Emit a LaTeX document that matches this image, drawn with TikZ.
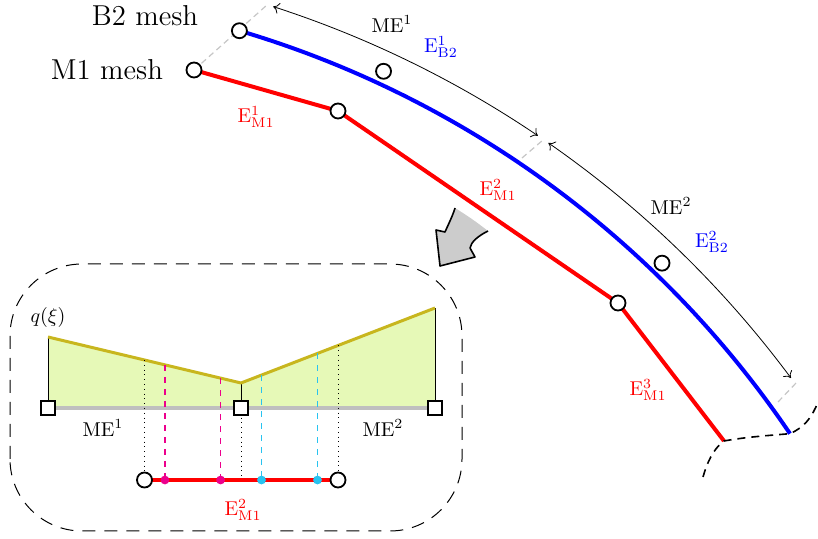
\documentclass[tikz,border=0pt]{standalone}
\usetikzlibrary{calc,positioning,arrows.meta}
\definecolor{qline}{RGB}{200,182,30}
\definecolor{qfill}{RGB}{230,249,183}
\definecolor{gpcyan}{RGB}{40,195,240}

\begin{document}
\begin{tikzpicture}[x=0.5pt,y=0.5pt,
                    >={To[length=3pt,width=5.5pt]},
                    vtx/.style={circle,draw,fill=white,line width=0.9pt,
                                inner sep=0pt,minimum size=7.5pt},
                    cvtx/.style={rectangle,draw,fill=white,line width=0.9pt,
                                 inner sep=0pt,minimum size=7pt},
                    gp/.style={circle,fill=#1,inner sep=0pt,minimum size=4.4pt},
                    gpl/.style={#1,dashed,line width=0.6pt},
                    mone/.style={red,line width=2pt},
                    btwo/.style={blue,line width=2pt},
                    elcut/.style={gray!45,densely dashed,line width=0.6pt}]
  \useasboundingbox (0,0) rectangle (818,539);
  % centre of the B2 arc
  \coordinate (O) at (-48,-462);

  \coordinate (m1) at (194,469);
  \coordinate (m2) at (338,428);
  \coordinate (m3) at (618,236);
  \coordinate (m4) at (724,98);
  \coordinate (b1) at ([shift={(73.5:1012)}]O);
  \coordinate (b2) at ([shift={(34.1:1012)}]O);

  % element boundaries
  \draw[elcut] (m1) -- (267,534);
  \draw[elcut] (522,381) -- (543,399);
  \draw[elcut] (778,137) -- (797,157);

  \draw[mone] (m1) -- (m2) -- (m3) -- (m4);
  \draw[btwo] (b1) arc[start angle=73.5,end angle=34.1,radius=1012];

  \draw[<->] ([shift={(72.1:1045)}]O) arc[start angle=72.1,end angle=55.9,radius=1045];
  \draw[<->] ([shift={(55.2:1045)}]O) arc[start angle=55.2,end angle=36.6,radius=1045];

  % cut through the domain
  \draw[line width=0.8pt,dash pattern=on 4pt off 3pt]
    (703,62) .. controls (707,76) and (713,90) .. (m4)
             .. controls (745,102) and (775,104) .. (b2)
             .. controls (805,112) and (812,122) .. (818,137);

  \foreach \p in {m1,m2,m3,b1} \node[vtx] at (\p) {};
  \node[vtx] (bc1) at ([shift={(65.1:1025)}]O) {};
  \node[vtx] (bc2) at ([shift={(46.1:1024)}]O) {};

  \node[font=\Large] (b2mesh) at (145,523) {B2 mesh};
  \node[font=\Large,left=12pt of m1] (m1mesh) {M1 mesh};
  \node at (392,515) {ME$^1$};
  \node at (671,333) {ME$^2$};
  \node[text=blue] at (441,492) {$\mathrm{E}^1_{\mathrm{B2}}$};
  \node[text=blue] at (712,297) {$\mathrm{E}^2_{\mathrm{B2}}$};
  \node[text=red] at (256,422) {$\mathrm{E}^1_{\mathrm{M1}}$};
  \node[text=red] at (498,349) {$\mathrm{E}^2_{\mathrm{M1}}$};
  \node[text=red] at (648,149) {$\mathrm{E}^3_{\mathrm{M1}}$};

  % zoom arrow
  \fill[gray!40] (455,331) to[bend left=3] (488,308)
    .. controls (478,303) and (471,297) .. (470,291) -- (475,282) -- (440,273)
    -- (436,309) -- (445,307) .. controls (449,316) and (453,324) .. (455,331) -- cycle;
  \draw[line width=0.8pt,line join=round] (488,308)
    .. controls (478,303) and (471,297) .. (470,291) -- (475,282) -- (440,273)
    -- (436,309) -- (445,307) .. controls (449,316) and (453,324) .. (455,331);

  % inset: q over the two mortar elements
  \draw[line width=0.5pt,dash pattern=on 6.5pt off 4.5pt,rounded corners=36pt]
    (10,8) rectangle (462,275);
  \coordinate (s1) at (48,131);
  \coordinate (s2) at (241,131);
  \coordinate (s3) at (435,131);
  \coordinate (qL) at (48,202);
  \coordinate (qM) at (241,156);
  \coordinate (qR) at (435,231);
  \fill[qfill] (qL) -- (qM) -- (qR) -- (s3) -- (s1) -- cycle;
  \draw[lightgray,line width=2pt] (s1) -- (s3);
  \draw[line width=0.5pt] (s1) -- (qL) (s2) -- (qM) (s3) -- (qR);
  \draw[qline,line width=1.5pt,line join=round] (qL) -- (qM) -- (qR);
  \node[above=1pt of qL] (qlab) {$q(\xi)$};

  \coordinate (hL) at ($(qL)!.5!(qM)$);
  \coordinate (hR) at ($(qM)!.5!(qR)$);
  \coordinate (e1) at (hL |- 0,59);
  \coordinate (e2) at (hR |- 0,59);
  \draw[dotted] (hL) -- (e1) (hR) -- (e2) (s2) -- (s2 |- e1);
  \coordinate (g1) at ($(qL)!0.6057!(qM)$);
  \coordinate (g2) at ($(qL)!0.8943!(qM)$);
  \coordinate (g3) at ($(qM)!0.1057!(qR)$);
  \coordinate (g4) at ($(qM)!0.3943!(qR)$);
  \draw[gpl=magenta] (g1) -- (g1 |- e1) (g2) -- (g2 |- e1);
  \draw[gpl=gpcyan] (g3) -- (g3 |- e1) (g4) -- (g4 |- e1);
  \draw[mone] (e1) -- (e2);
  \foreach \g in {g1,g2} \node[gp=magenta] at (\g |- e1) {};
  \foreach \g in {g3,g4} \node[gp=gpcyan] at (\g |- e1) {};
  \foreach \p in {e1,e2} \node[vtx] at (\p) {};
  \foreach \s in {s1,s2,s3} \node[cvtx] at (\s) {};

  \node at (103,111) {ME$^1$};
  \node at (383,111) {ME$^2$};
  \node[text=red] at (243,29) {$\mathrm{E}^2_{\mathrm{M1}}$};
\end{tikzpicture}
\end{document}
